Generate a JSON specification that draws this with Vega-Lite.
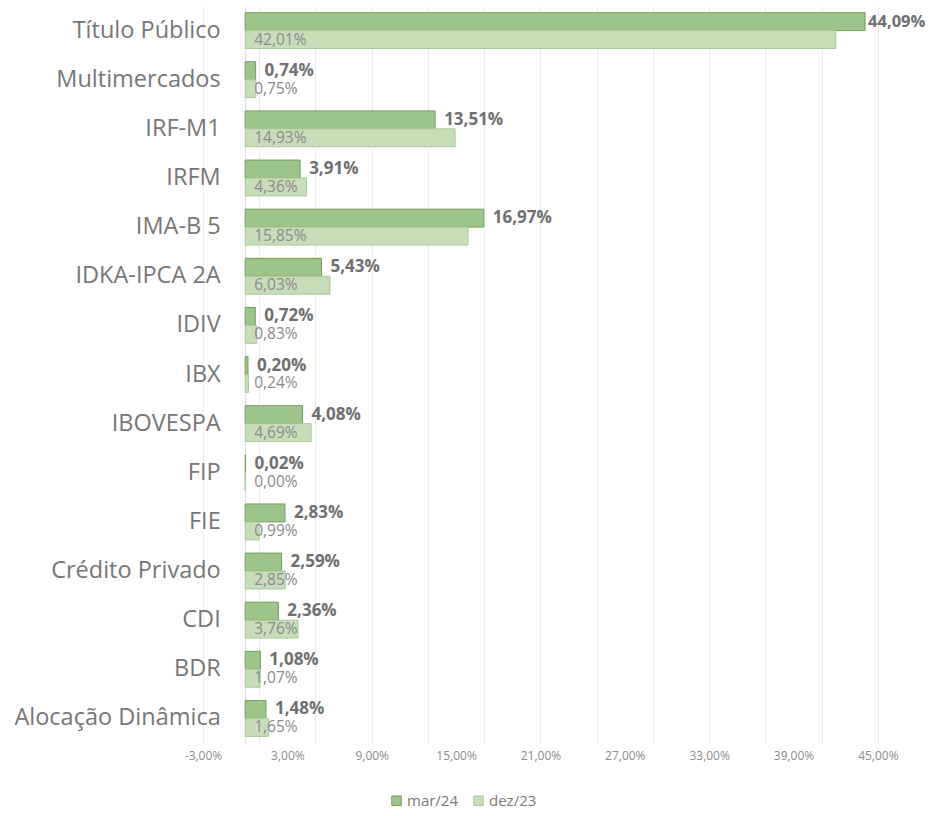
{
  "$schema": "https://vega.github.io/schema/vega-lite/v6.json",
  "width": 703,
  "height": 737,
  "autosize": {"type": "none"},
  "padding": {"left": 203, "top": 6, "right": 23, "bottom": 73},
  "background": "white",
  "config": {
    "locale": {"number": {"decimal": ",", "thousands": ".", "grouping": [3], "currency": ["R$", ""], "minus": "-"}},
    "font": "Open Sans",
    "view": {"stroke": null}
  },
  "data": {
    "values": [
      {"categoria": "Título Público", "serie": "mar/24", "valor": 0.4409},
      {"categoria": "Título Público", "serie": "dez/23", "valor": 0.4201},
      {"categoria": "Multimercados", "serie": "mar/24", "valor": 0.0074},
      {"categoria": "Multimercados", "serie": "dez/23", "valor": 0.0075},
      {"categoria": "IRF-M1", "serie": "mar/24", "valor": 0.1351},
      {"categoria": "IRF-M1", "serie": "dez/23", "valor": 0.1493},
      {"categoria": "IRFM", "serie": "mar/24", "valor": 0.0391},
      {"categoria": "IRFM", "serie": "dez/23", "valor": 0.0436},
      {"categoria": "IMA-B 5", "serie": "mar/24", "valor": 0.1697},
      {"categoria": "IMA-B 5", "serie": "dez/23", "valor": 0.1585},
      {"categoria": "IDKA-IPCA 2A", "serie": "mar/24", "valor": 0.0543},
      {"categoria": "IDKA-IPCA 2A", "serie": "dez/23", "valor": 0.0603},
      {"categoria": "IDIV", "serie": "mar/24", "valor": 0.0072},
      {"categoria": "IDIV", "serie": "dez/23", "valor": 0.0083},
      {"categoria": "IBX", "serie": "mar/24", "valor": 0.0020},
      {"categoria": "IBX", "serie": "dez/23", "valor": 0.0024},
      {"categoria": "IBOVESPA", "serie": "mar/24", "valor": 0.0408},
      {"categoria": "IBOVESPA", "serie": "dez/23", "valor": 0.0469},
      {"categoria": "FIP", "serie": "mar/24", "valor": 0.0002},
      {"categoria": "FIP", "serie": "dez/23", "valor": 0.0000},
      {"categoria": "FIE", "serie": "mar/24", "valor": 0.0283},
      {"categoria": "FIE", "serie": "dez/23", "valor": 0.0099},
      {"categoria": "Crédito Privado", "serie": "mar/24", "valor": 0.0259},
      {"categoria": "Crédito Privado", "serie": "dez/23", "valor": 0.0285},
      {"categoria": "CDI", "serie": "mar/24", "valor": 0.0236},
      {"categoria": "CDI", "serie": "dez/23", "valor": 0.0376},
      {"categoria": "BDR", "serie": "mar/24", "valor": 0.0108},
      {"categoria": "BDR", "serie": "dez/23", "valor": 0.0107},
      {"categoria": "Alocação Dinâmica", "serie": "mar/24", "valor": 0.0148},
      {"categoria": "Alocação Dinâmica", "serie": "dez/23", "valor": 0.0165}
    ]
  },
  "encoding": {
    "y": {
      "field": "categoria",
      "type": "nominal",
      "sort": null,
      "scale": {"paddingInner": 0.27, "paddingOuter": 0.135},
      "axis": {
        "title": null,
        "offset": -42.2,
        "domain": true,
        "domainColor": "#d9d9d9",
        "ticks": false,
        "labelPadding": 25,
        "labelFontSize": 23.5,
        "labelLimit": 400,
        "labelColor": "#767676",
        "labelFont": "Open Sans"
      }
    },
    "yOffset": {
      "field": "serie",
      "type": "nominal",
      "sort": ["mar/24", "dez/23"],
      "scale": {"paddingInner": 0, "paddingOuter": 0}
    }
  },
  "resolve": {"axis": {"x": "independent"}},
  "layer": [
    {
      "mark": {"type": "bar", "strokeWidth": 1},
      "encoding": {
        "x": {
          "field": "valor",
          "type": "quantitative",
          "scale": {"domain": [-0.03, 0.47], "nice": false, "zero": false},
          "axis": {
            "title": null,
            "values": [-0.03, 0.03, 0.09, 0.15, 0.21, 0.27, 0.33, 0.39, 0.45],
            "format": ".2%",
            "grid": false,
            "domain": false,
            "ticks": false,
            "labelFlush": false,
            "labelOverlap": false,
            "labelPadding": 7,
            "labelFontSize": 12,
            "labelColor": "#8c8c8c",
            "labelFont": "Open Sans"
          }
        },
        "fill": {
          "field": "serie",
          "type": "nominal",
          "sort": ["mar/24", "dez/23"],
          "scale": {"domain": ["mar/24", "dez/23"], "range": ["#9dc48a", "#c6ddb8"]},
          "legend": {
            "title": null,
            "orient": "none",
            "direction": "horizontal",
            "legendX": 186,
            "legendY": 787,
            "symbolType": "square",
            "symbolSize": 90,
            "symbolStrokeWidth": 1,
            "labelFontSize": 15,
            "labelColor": "#7a7a7a",
            "labelFont": "Open Sans",
            "columnPadding": 12,
            "labelOffset": 3
          }
        },
        "stroke": {
          "field": "serie",
          "type": "nominal",
          "scale": {"domain": ["mar/24", "dez/23"], "range": ["#739e5f", "#a9c99a"]},
          "legend": null
        }
      }
    },
    {
      "transform": [{"filter": "datum.serie == 'mar/24' && datum.valor < 0.4"}],
      "mark": {"type": "text", "align": "left", "baseline": "middle", "dx": 9, "fontSize": 17, "fontWeight": "bold", "color": "#6e6e6e", "font": "Open Sans"},
      "encoding": {
        "x": {
          "field": "valor",
          "type": "quantitative",
          "axis": {
            "orient": "top",
            "title": null,
            "values": [-0.03, 0.01, 0.05, 0.09, 0.13, 0.17, 0.21, 0.25, 0.29, 0.33, 0.37, 0.41, 0.45],
            "grid": true,
            "gridColor": "#ececec",
            "labels": false,
            "ticks": false,
            "domain": false
          }
        },
        "text": {"field": "valor", "type": "quantitative", "format": ".2%"}
      }
    },
    {
      "transform": [{"filter": "datum.serie == 'mar/24' && datum.valor >= 0.4"}],
      "mark": {"type": "text", "align": "left", "baseline": "middle", "dx": 3, "fontSize": 16.5, "fontWeight": "bold", "color": "#6e6e6e", "font": "Open Sans"},
      "encoding": {
        "x": {"field": "valor", "type": "quantitative", "axis": null},
        "text": {"field": "valor", "type": "quantitative", "format": ".2%"}
      }
    },
    {
      "transform": [{"filter": "datum.serie == 'dez/23'"}],
      "mark": {"type": "text", "align": "left", "baseline": "middle", "dx": 9, "fontSize": 15.5, "color": "#8a8a8a", "font": "Open Sans"},
      "encoding": {
        "x": {"datum": 0, "type": "quantitative", "axis": null},
        "text": {"field": "valor", "type": "quantitative", "format": ".2%"}
      }
    }
  ]
}
